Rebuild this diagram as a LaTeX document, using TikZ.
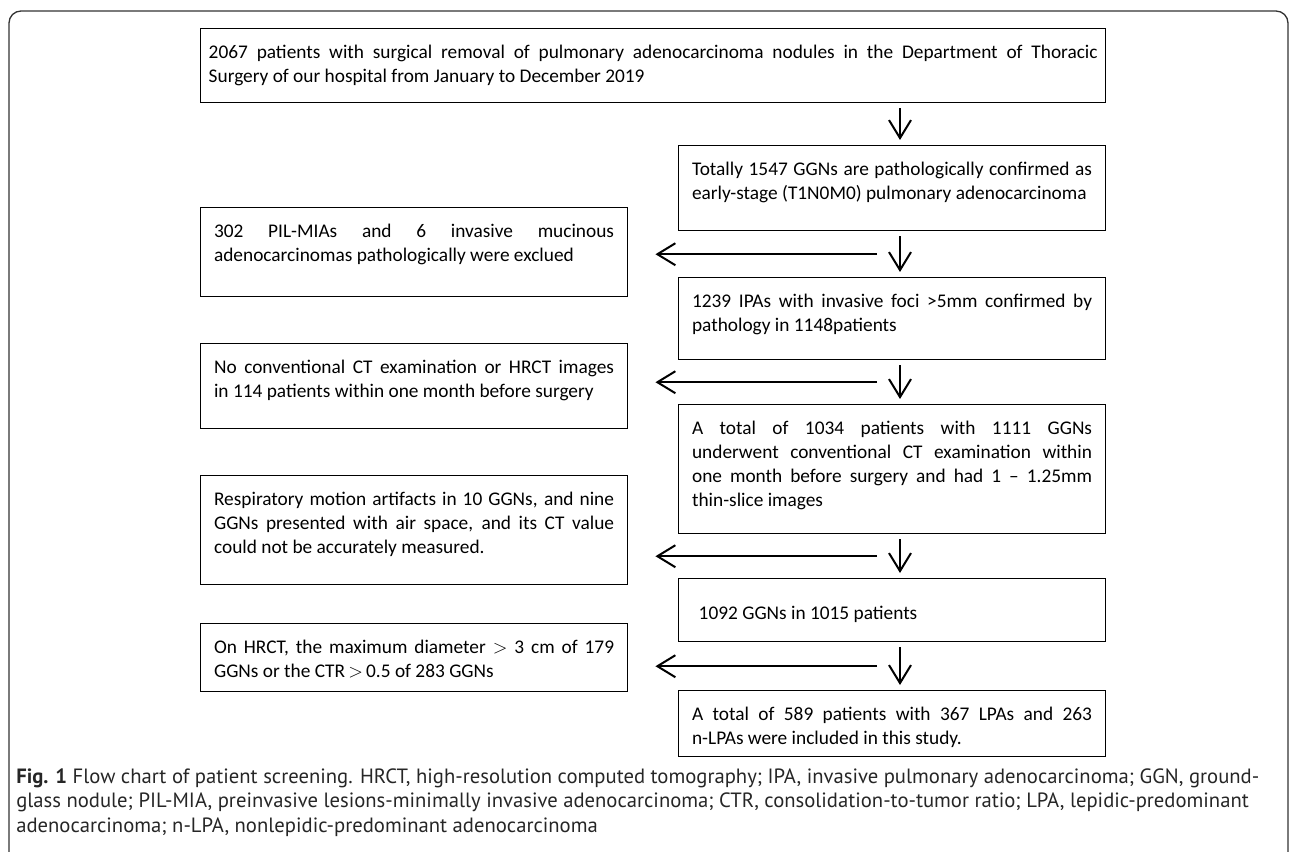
\documentclass[tikz,border=0pt]{standalone}
\usepackage{fontspec}
\setmainfont{Carlito}
\newfontfamily\capfont{PT Sans}
\usetikzlibrary{arrows.meta,calc}

\tikzset{
    flowbox/.style={draw, line width=1.1pt, anchor=north west, align=justify,
        inner ysep=0pt, inner xsep=10pt, text width=300pt, text height=22.5pt,
        font=\fontsize{14.5}{18}\selectfont},
    link/.style={->, line width=1.5pt, shorten <=3.75pt, shorten >=3.75pt},
    skip/.style={->, line width=1.5pt, shorten <=17.25pt, shorten >=20.5pt}
}

\begin{document}
\begin{tikzpicture}[x=0.75pt,y=-0.75pt,>={Straight Barb[length=13.5pt,width=16.5pt]}]
    \useasboundingbox (0,0) rectangle (1290,852);
    \clip (0,0) rectangle (1290,852);

    % Outer frame
    \draw[line width=1pt, rounded corners=9pt, black!80] (9,11) rectangle (1288,900);

    % Main column
    \node[flowbox, text width=666.75pt, inner xsep=6pt, text depth=33pt] (patients) at (200,28)
        {2067 patients with surgical removal of pulmonary adenocarcinoma nodules in the Department of Thoracic\linebreak
         Surgery of our hospital from January to December 2019};
    \node[flowbox, text depth=41.25pt] (early) at (678,145)
        {Totally 1547 GGNs are pathologically confirmed as\linebreak
         early-stage (T1N0M0) pulmonary adenocarcinoma};
    \node[flowbox, text depth=39pt] (ipa) at (678,277)
        {1239 IPAs with invasive foci >5mm confirmed by\linebreak
         pathology in 1148patients};
    \node[flowbox, text depth=74.25pt] (ctexam) at (678,404)
        {A total of 1034 patients with 1111 GGNs\linebreak
         underwent conventional CT examination within\linebreak
         one month before surgery and had 1 -- 1.25mm\linebreak
         thin-slice images};
    \node[flowbox, text height=30.75pt, text depth=16.5pt] (ggns) at (678,578)
        {\hspace*{5pt}1092 GGNs in 1015 patients};
    \node[flowbox, text depth=27pt] (final) at (678,690)
        {A total of 589 patients with 367 LPAs and 263\linebreak
         n-LPAs were included in this study.};

    % Excluded boxes
    \node[flowbox, text depth=44.25pt] (mucin) at (200,207)
        {302 PIL-MIAs and 6 invasive mucinous\linebreak
         adenocarcinomas pathologically were exclued};
    \node[flowbox, text depth=41.25pt] (noct) at (200,343)
        {No conventional CT examination or HRCT images\linebreak
         in 114 patients within one month before surgery};
    \node[flowbox, text depth=59.25pt] (artifact) at (200,475)
        {Respiratory motion artifacts in 10 GGNs, and nine\linebreak
         GGNs presented with air space, and its CT value\linebreak
         could not be accurately measured.};
    \node[flowbox, text depth=28.5pt] (hrct) at (200,623)
        {On HRCT, the maximum diameter $>$ 3 cm of 179\linebreak
         GGNs or the CTR\,$>$\,0.5 of 283 GGNs};

    % Down arrows
    \coordinate (ax) at (900,0);
    \draw[link] (patients.south -| ax) -- (early.north -| ax);
    \draw[link] (early.south -| ax) -- (ipa.north -| ax);
    \draw[link] (ipa.south -| ax) -- (ctexam.north -| ax);
    \draw[link] (ctexam.south -| ax) -- (ggns.north -| ax);
    \draw[link] (ggns.south -| ax) -- (final.north -| ax);

    % Exclusion arrows
    \coordinate (m1) at ($(early.south -| ax)!0.5!(ipa.north -| ax)$);
    \coordinate (m2) at ($(ipa.south -| ax)!0.5!(ctexam.north -| ax)$);
    \coordinate (m3) at ($(ctexam.south -| ax)!0.5!(ggns.north -| ax)$);
    \coordinate (m4) at ($(ggns.south -| ax)!0.5!(final.north -| ax)$);
    \draw[skip] (m1) -- (m1 -| mucin.east);
    \draw[skip] (m2) -- (m2 -| noct.east);
    \draw[skip] (m3) -- (m3 -| artifact.east);
    \draw[skip] (m4) -- (m4 -| hrct.east);

    % Caption (base = last line)
    \node[anchor=base west, align=left, inner sep=0pt, text=black!85,
          font=\capfont\fontsize{15.5}{18.3}\selectfont] (caption) at (16,832)
        {\textbf{Fig. 1} Flow chart of patient screening. HRCT, high-resolution computed tomography; IPA, invasive pulmonary adenocarcinoma; GGN, ground-\\
         glass nodule; PIL-MIA, preinvasive lesions-minimally invasive adenocarcinoma; CTR, consolidation-to-tumor ratio; LPA, lepidic-predominant\\
         adenocarcinoma; n-LPA, nonlepidic-predominant adenocarcinoma};
\end{tikzpicture}
\end{document}
